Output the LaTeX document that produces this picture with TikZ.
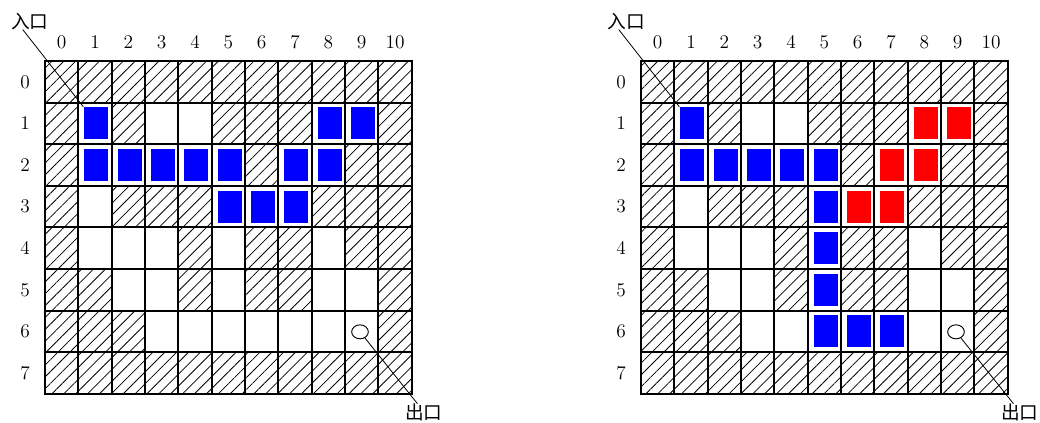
\documentclass[tikz,border=0pt]{standalone}
\usepackage{fontspec}
\newfontfamily\cjk{Noto Sans CJK SC}
\usetikzlibrary{patterns.meta,shapes.geometric}

\begin{document}
\begin{tikzpicture}[x=0.75pt,y=-0.75pt,
  wall/.style={pattern={Lines[angle=45,distance=6.3pt,line width=0.6pt]}},
  gridline/.style={line width=1.4pt,line cap=rect},
  num/.style={font=\fontsize{14.5}{16}\selectfont,inner sep=0pt},
  lab/.style={font=\cjk\fontsize{14}{16}\selectfont,inner sep=0pt},
  pointer/.style={line width=0.6pt},
  goal/.style={draw,ellipse,line width=0.7pt,minimum width=12.5pt,minimum height=10.5pt,inner sep=0pt},
  onpath/.style={fill=blue},
  deadend/.style={fill=red}]
\useasboundingbox (0,0) rectangle (1040,422);

\foreach \ox in {45,641}{
  \begin{scope}[shift={(\ox,61)},x=25pt,y=-31.2pt]
    \foreach \c in {0,...,10} \fill[wall] (\c,0) rectangle ++(1,1) (\c,7) rectangle ++(1,1);
    \foreach \r in {1,...,6} \fill[wall] (0,\r) rectangle ++(1,1) (10,\r) rectangle ++(1,1);
    \foreach \c/\r in {2/1,5/1,6/1,7/1,6/2,9/2,2/3,3/3,4/3,8/3,9/3,4/4,6/4,7/4,9/4,1/5,4/5,6/5,7/5,1/6,2/6}
      \fill[wall] (\c,\r) rectangle ++(1,1);
    \foreach \c in {0,...,11} \draw[gridline] (\c,0) -- (\c,8);
    \foreach \r in {0,...,8} \draw[gridline] (0,\r) -- (11,\r);
    \foreach \c in {0,...,10} \node[num] (col\c) at (\c+.5,-.46) {\c};
    \foreach \r in {0,...,7} \node[num] (row\r) at (-.6,\r+.5) {\r};
    \node[goal] (goal) at (9.45,6.51) {};
    \coordinate (entry) at (1.15,1.1);
    \node[lab] (inlab) at (-.45,-.96) {入口};
    \node[lab] (outlab) at (11.36,8.45) {出口};
    \draw[pointer] (inlab.-130) -- (entry);
    \draw[pointer] (goal) -- (outlab.125);
  \end{scope}
}

\begin{scope}[shift={(45,61)},x=25pt,y=-31.2pt]
  \foreach \c/\r in {1/1,8/1,9/1,1/2,2/2,3/2,4/2,5/2,7/2,8/2,5/3,6/3,7/3}
    \fill[onpath] (\c+.18,\r+.115) rectangle ++(.72,.77);
\end{scope}

\begin{scope}[shift={(641,61)},x=25pt,y=-31.2pt]
  \foreach \c/\r in {1/1,1/2,2/2,3/2,4/2,5/2,5/3,5/4,5/5,5/6,6/6,7/6}
    \fill[onpath] (\c+.18,\r+.115) rectangle ++(.72,.77);
  \foreach \c/\r in {8/1,9/1,7/2,8/2,6/3,7/3}
    \fill[deadend] (\c+.18,\r+.115) rectangle ++(.72,.77);
\end{scope}

\end{tikzpicture}
\end{document}
